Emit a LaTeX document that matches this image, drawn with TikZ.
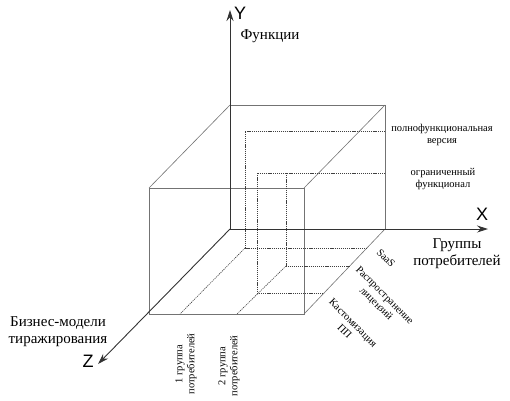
\documentclass[tikz,border=0pt]{standalone}
\usepackage{fontspec}
\setmainfont{Liberation Serif}
\newfontfamily\axfont{Liberation Sans}
\usetikzlibrary{arrows.meta}
\begin{document}
\begin{tikzpicture}[x=1pt,y=-1pt,
  edge/.style={draw=black!55, line width=0.6pt},
  axis/.style={draw=black!80, line width=0.9pt, -{Stealth[length=11pt,width=7pt]}},
  guide/.style={draw=black!75, line width=0.6pt, dash pattern=on 1.2pt off 0.9pt},
  biglbl/.style={font=\fontsize{15}{17}\selectfont, align=center, inner sep=0pt},
  smalllbl/.style={font=\fontsize{10.5}{12}\selectfont, align=center, inner sep=0pt},
  axlbl/.style={font=\axfont\fontsize{18}{18}\selectfont, inner sep=0pt}]
\useasboundingbox (0,0) rectangle (510,400);
% cube corners
\coordinate (O) at (230,229);
\coordinate (BTL) at (230,105);
\coordinate (BTR) at (385,105);
\coordinate (BBR) at (385,229);
\coordinate (FTL) at (149,188);
\coordinate (FTR) at (304,188);
\coordinate (FBL) at (149,314);
\coordinate (FBR) at (304,314);
\coordinate (Yend) at (230,10);
\coordinate (Xend) at (488,229);
\coordinate (Zend) at (98,364);
% cube edges
\draw[edge] (BTL) -- (BTR) -- (BBR);
\draw[edge] (FTL) rectangle (FBR);
\draw[edge] (FTL) -- (BTL);
\draw[edge] (FTR) -- (BTR);
\draw[edge] (FBR) -- (BBR);
% guides
\coordinate (P1) at (245,131);
\coordinate (P1e) at (385,131);
\coordinate (P2) at (257,173);
\coordinate (P2e) at (385,173);
\coordinate (P3) at (286,173);
\coordinate (F1) at (245,248);
\coordinate (F1e) at (367,248);
\coordinate (F3) at (286,266);
\coordinate (F3e) at (350,266);
\coordinate (F2) at (257,293);
\coordinate (F2e) at (324,293);
\coordinate (G1) at (180,314);
\coordinate (G2) at (237,314);
\draw[guide] (P1e) -- (P1) -- (F1) -- (F1e);
\draw[guide] (P2e) -- (P2) -- (F2) -- (F2e);
\draw[guide] (P3) -- (F3) -- (F3e);
\draw[guide] (F1) -- (G1);
\draw[guide] (F3) -- (G2);
% axes
\draw[axis] (O) -- (Yend);
\draw[axis] (O) -- (Xend);
\draw[axis] (O) -- (Zend);
% labels
\node[axlbl] (ly) at (240,13) {Y};
\node[axlbl] (lx) at (482,214) {X};
\node[axlbl] (lz) at (88,361) {Z};
\node[biglbl] (fun) at (270,36) {Функции};
\node[biglbl] (grp) at (457,254) {Группы\\потребителей};
\node[biglbl] (biz) at (58,332) {Бизнес-модели\\тиражирования};
\node[smalllbl] (full) at (442,135) {полнофункциональная\\версия};
\node[smalllbl] (lim) at (443,179) {ограниченный\\функционал};
\node[smalllbl, rotate=-45] (saas) at (386,258) {SaaS};
\node[smalllbl, rotate=-45] (lic) at (380,300) {Распространение\\лицензий};
\node[smalllbl, rotate=-45] (cust) at (349,327) {Кастомизация\\ПП};
\node[smalllbl, rotate=90] (g1) at (186,364) {1 группа\\потребителей};
\node[smalllbl, rotate=90] (g2) at (229,366) {2 группа\\потребителей};
\end{tikzpicture}
\end{document}
